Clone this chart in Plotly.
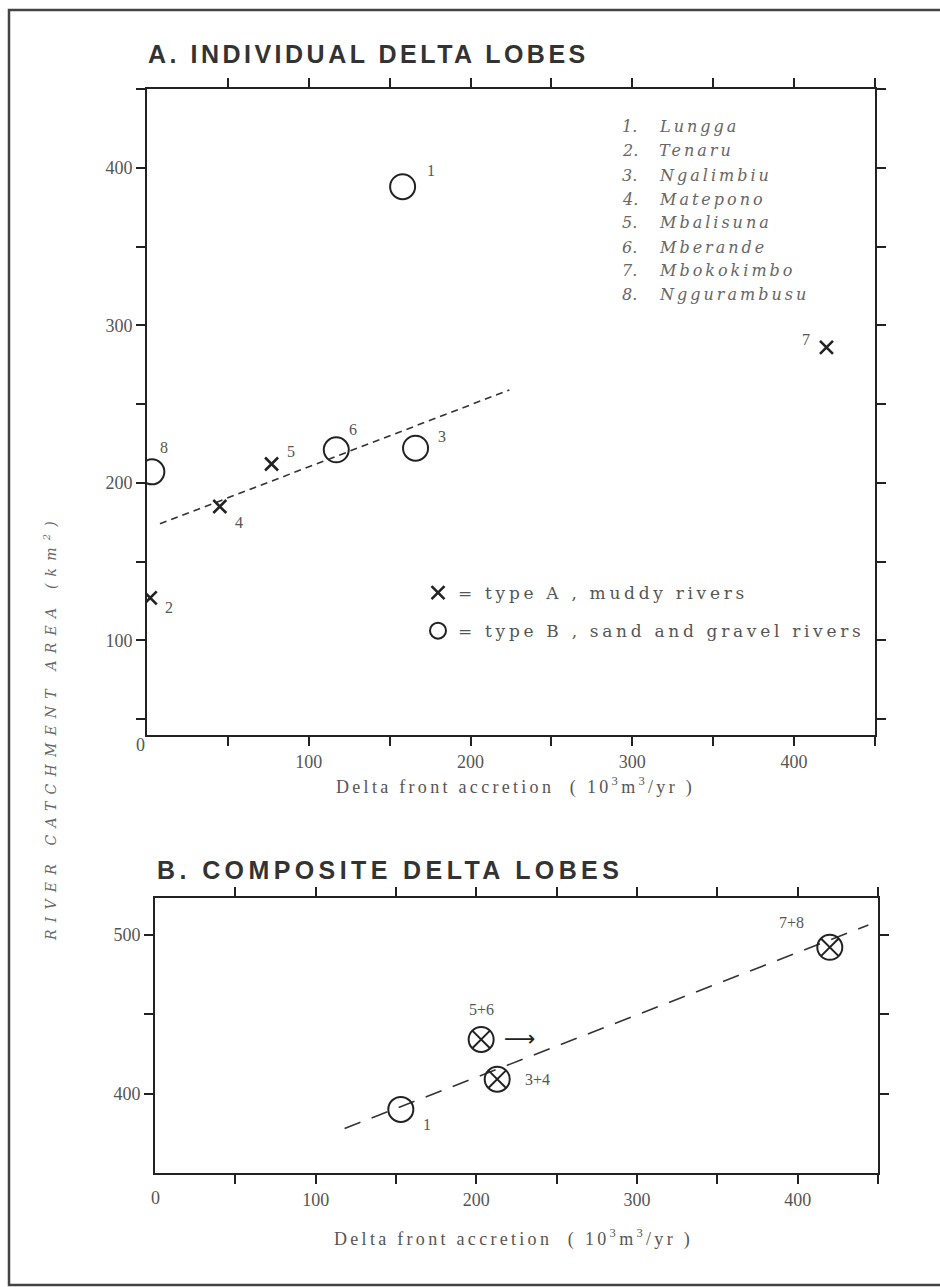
import plotly.graph_objects as go

W, H = 940, 1287

# ---------------- data ----------------
lobe_ids = [1, 2, 3, 4, 5, 6, 7, 8]
lobe_names = ["Lungga", "Tenaru", "Ngalimbiu", "Matepono",
              "Mbalisuna", "Mberande", "Mbokokimbo", "Nggurambusu"]
lobe_type = ["B", "A", "B", "A", "A", "B", "A", "B"]
accretion_a = [158, 2, 166, 45, 77, 117, 420, 3]        # 10^3 m^3/yr
catchment_a = [388, 127, 222, 185, 212, 221, 286, 207]  # km^2

trend_a_x = [8, 224]
trend_a_y = [174, 259]

comp_labels = ["1", "3+4", "5+6", "7+8"]
comp_accretion = [153, 213, 203, 420]
comp_catchment = [390, 409, 434, 492]
comp_kind = ["single", "composite", "composite", "composite"]
comp_minimum = [False, False, True, False]   # arrow: value is a minimum

trend_b_x = [118, 444]
trend_b_y = [378, 506]

x_major = [100, 200, 300, 400]
x_minor = [50, 150, 250, 350, 450]
ya_major = [100, 200, 300, 400]
ya_minor = [50, 150, 250, 350, 450]
yb_major = [400, 500]
yb_minor = [450]

legend_a = "= type A , muddy rivers"
legend_b = "= type B , sand and gravel rivers"

# ---------------- style ----------------
INK = "#222222"
TXT = "#555555"
SERIF = "Liberation Serif"
SERIF2 = "DejaVu Serif"

def px_x(p):
    return p / W

def px_y(p):
    return 1 - p / H

label_shift_a = {1: (28, 16), 2: (19, -10), 3: (26, 12), 4: (19, -16),
                 5: (19, 13), 6: (17, 20), 7: (-20, 8), 8: (12, 24)}
label_shift_b = {"1": (26, -15), "3+4": (40, 0), "5+6": (0, 30), "7+8": (-38, 25)}

fig = go.Figure()

# Panel A trend line
fig.add_trace(go.Scatter(x=trend_a_x, y=trend_a_y, mode="lines",
                         line=dict(color="#333", width=1.6, dash="7px,5px"),
                         xaxis="x", yaxis="y", showlegend=False, hoverinfo="skip"))

# Panel A markers by type
for t, name, marker in [
    ("A", legend_a, dict(symbol="x-thin", size=13, color=INK, line=dict(width=2.6, color=INK))),
    ("B", legend_b, dict(symbol="circle-open", size=25, color=INK, line=dict(width=2))),
]:
    xs = [x for x, k in zip(accretion_a, lobe_type) if k == t]
    ys = [y for y, k in zip(catchment_a, lobe_type) if k == t]
    fig.add_trace(go.Scatter(
        x=xs, y=ys, mode="markers", marker=marker, name=
        '<span style="letter-spacing:3.7px">' + name + '</span>',
        legendgroup=t, xaxis="x", yaxis="y"))

# Panel B trend line
fig.add_trace(go.Scatter(x=trend_b_x, y=trend_b_y, mode="lines",
                         line=dict(color="#333", width=1.6, dash="17px,12px"),
                         xaxis="x2", yaxis="y2", showlegend=False, hoverinfo="skip"))

# Panel B markers
for kind, sym in [("single", "circle-open"), ("composite", "circle-x-open")]:
    xs = [x for x, k in zip(comp_accretion, comp_kind) if k == kind]
    ys = [y for y, k in zip(comp_catchment, comp_kind) if k == kind]
    fig.add_trace(go.Scatter(
        x=xs, y=ys, mode="markers",
        marker=dict(symbol=sym, size=25, color=INK, line=dict(width=2)),
        xaxis="x2", yaxis="y2", showlegend=False))

annotations = []

# point labels panel A
for i, x, y in zip(lobe_ids, accretion_a, catchment_a):
    dx, dy = label_shift_a[i]
    annotations.append(dict(x=x, y=y, xref="x", yref="y", text=str(i),
                            showarrow=False, xshift=dx, yshift=dy,
                            font=dict(family=SERIF, size=16, color=TXT)))

# point labels panel B
for lab, x, y, mn in zip(comp_labels, comp_accretion, comp_catchment, comp_minimum):
    dx, dy = label_shift_b[lab]
    annotations.append(dict(x=x, y=y, xref="x2", yref="y2", text=lab,
                            showarrow=False, xshift=dx, yshift=dy,
                            font=dict(family=SERIF, size=16, color=TXT)))
    if mn:
        annotations.append(dict(x=x, y=y, xref="x2", yref="y2", text="\u27f6",
                                showarrow=False, xshift=39, yshift=1,
                                font=dict(family="DejaVu Sans", size=22, color=INK)))

# river list
for k, (i, nm) in enumerate(zip(lobe_ids, lobe_names)):
    yy = 127 + 24 * k
    annotations.append(dict(x=px_x(620), y=px_y(yy), xref="paper", yref="paper",
                            xanchor="left", yanchor="middle", showarrow=False,
                            text="<i>%d.</i>" % i,
                            font=dict(family=SERIF2, size=16, color="#666")))
    annotations.append(dict(x=px_x(657), y=px_y(yy), xref="paper", yref="paper",
                            xanchor="left", yanchor="middle", showarrow=False,
                            text='<span style="letter-spacing:3px"><i>' + nm + '</i></span>',
                            font=dict(family=SERIF2, size=16, color="#666")))

# titles
annotations.append(dict(x=px_x(146), y=px_y(54), xref="paper", yref="paper",
                        xanchor="left", yanchor="middle", showarrow=False,
                        text='<span style="letter-spacing:3.5px"><b>A. INDIVIDUAL DELTA LOBES</b></span>',
                        font=dict(family="Liberation Sans", size=25, color="#333")))
annotations.append(dict(x=px_x(155), y=px_y(870), xref="paper", yref="paper",
                        xanchor="left", yanchor="middle", showarrow=False,
                        text='<span style="letter-spacing:4.4px"><b>B. COMPOSITE DELTA LOBES</b></span>',
                        font=dict(family="Liberation Sans", size=25, color="#333")))

# x-axis titles
xt = '<span style="letter-spacing:3.3px">Delta front accretion  ( 10<sup>3</sup>m<sup>3</sup>/yr )</span>'
annotations.append(dict(x=px_x(515), y=px_y(786), xref="paper", yref="paper",
                        xanchor="center", yanchor="middle", showarrow=False, text=xt,
                        font=dict(family=SERIF, size=18, color=TXT)))
annotations.append(dict(x=px_x(513), y=px_y(1238), xref="paper", yref="paper",
                        xanchor="center", yanchor="middle", showarrow=False, text=xt,
                        font=dict(family=SERIF, size=18, color=TXT)))

# y-axis title
annotations.append(dict(x=px_x(50), y=px_y(728), xref="paper", yref="paper",
                        xanchor="center", yanchor="middle", showarrow=False,
                        textangle=-90,
                        text='<span style="letter-spacing:7.2px"><i>RIVER CATCHMENT AREA (km<sup>2</sup>)</i></span>',
                        font=dict(family=SERIF2, size=14, color="#666")))

# origin labels
annotations.append(dict(x=px_x(140), y=px_y(745), xref="paper", yref="paper",
                        xanchor="center", yanchor="middle",
                        showarrow=False, text="0",
                        font=dict(family=SERIF, size=18, color=TXT)))
annotations.append(dict(x=px_x(155), y=px_y(1198), xref="paper", yref="paper",
                        xanchor="center", yanchor="middle",
                        showarrow=False, text="0",
                        font=dict(family=SERIF, size=18, color=TXT)))

axis_common = dict(showline=True, linecolor=INK, linewidth=2, mirror="ticks",
                   ticks="outside", ticklen=9, tickwidth=1.6, tickcolor=INK,
                   showgrid=False, zeroline=False,
                   tickfont=dict(family=SERIF, size=18, color=TXT))

def minor(vals):
    return dict(tickmode="array", tickvals=vals, ticks="outside", ticklen=9,
                tickwidth=1.6, tickcolor=INK, showgrid=False)

fig.update_layout(
    width=W, height=H,
    margin=dict(l=0, r=0, t=0, b=0),
    paper_bgcolor="white", plot_bgcolor="white",
    xaxis=dict(domain=[px_x(147), px_x(875)], range=[0, 450], anchor="y",
               tickmode="array", tickvals=x_major, minor=minor(x_minor), **axis_common),
    yaxis=dict(domain=[px_y(735), px_y(89)], range=[40, 450], anchor="x",
               tickmode="array", tickvals=ya_major, minor=minor(ya_minor), **axis_common),
    xaxis2=dict(domain=[px_x(155), px_x(878)], range=[0, 450], anchor="y2",
                tickmode="array", tickvals=x_major, minor=minor(x_minor), **axis_common),
    yaxis2=dict(domain=[px_y(1173), px_y(898)], range=[350, 523], anchor="x2",
                tickmode="array", tickvals=yb_major, minor=minor(yb_minor), **axis_common),
    showlegend=True,
    legend=dict(x=px_x(418), y=px_y(575), xanchor="left", yanchor="top",
                bgcolor="rgba(0,0,0,0)", traceorder="grouped", tracegroupgap=13,
                font=dict(family=SERIF2, size=17, color=TXT), itemsizing="trace"),
    annotations=annotations,
    shapes=[dict(type="rect", xref="paper", yref="paper",
                 x0=px_x(9), x1=px_x(960), y0=px_y(1285), y1=px_y(10),
                 line=dict(color="#444", width=2.5))],
)

fig.write_html("out.html")
